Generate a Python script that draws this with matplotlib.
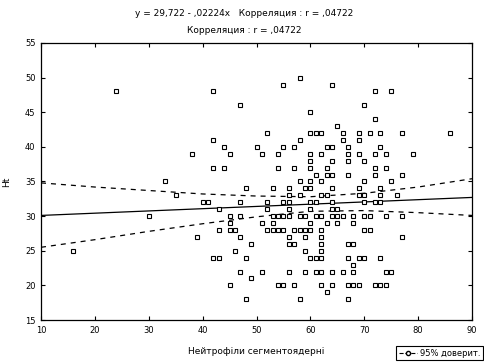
import numpy as np
import matplotlib
matplotlib.use('Agg')
import matplotlib.pyplot as plt
from matplotlib.lines import Line2D

# Scatter data (Нейтрофіли сегментоядерні vs Ht)
neut = [24,
        58, 55, 42, 47, 60, 52, 60, 61, 62, 42, 58, 44, 50, 55, 57, 63,
        38, 45, 51, 54, 60, 62, 60, 42, 44, 54, 57, 60, 63, 61, 63,
        64, 72, 75, 70, 72, 65, 66, 69, 71, 73, 77, 86, 66, 69, 64, 67, 73,
        67, 69, 72, 74, 79, 64, 67, 70, 72, 74, 64, 67, 72, 77,
        33, 35, 30, 16,
        58, 60, 62, 70, 75,
        48, 53, 56, 59, 60, 64, 69, 73,
        56, 58, 62, 63, 69, 70, 73, 76,
        40, 41, 47, 52, 55, 56, 60, 61, 64, 70, 72, 73,
        43, 52, 56, 60, 64, 65,
        45, 47, 53, 54, 55, 56, 58, 59, 61, 62, 64, 65, 66, 68, 70, 71, 74, 77,
        45, 51, 53, 60, 63, 65, 68,
        43, 45, 46, 52, 53, 54, 55, 57, 58, 59, 60, 62, 70, 71,
        39, 47, 56, 59, 62, 77,
        49, 56, 57, 62, 67, 68,
        46, 59, 62,
        42, 43, 48, 60, 61, 62, 67, 69, 70, 73,
        68,
        47, 51, 56, 59, 61, 62, 64, 66, 68, 74, 75,
        49,
        45, 54, 55, 57, 62, 64, 67, 68, 69, 72, 73, 74,
        63,
        48, 58, 67]
ht = [48,
      50, 49, 48, 46, 45, 42, 42, 42, 42, 41, 41, 40, 40, 40, 40, 40,
      39, 39, 39, 39, 39, 39, 38, 37, 37, 37, 37, 37, 37, 36, 36,
      49, 48, 48, 46, 44, 43, 42, 42, 42, 42, 42, 42, 41, 41, 40, 40, 40,
      39, 39, 39, 39, 39, 38, 38, 38, 37, 37, 36, 36, 36, 36,
      35, 33, 30, 25,
      35, 35, 35, 35, 35,
      34, 34, 34, 34, 34, 34, 34, 34,
      33, 33, 33, 33, 33, 33, 33, 33,
      32, 32, 32, 32, 32, 32, 32, 32, 32, 32, 32, 32,
      31, 31, 31, 31, 31, 31,
      30, 30, 30, 30, 30, 30, 30, 30, 30, 30, 30, 30, 30, 30, 30, 30, 30, 30,
      29, 29, 29, 29, 29, 29, 29,
      28, 28, 28, 28, 28, 28, 28, 28, 28, 28, 28, 28, 28, 28,
      27, 27, 27, 27, 27, 27,
      26, 26, 26, 26, 26, 26,
      25, 25, 25,
      24, 24, 24, 24, 24, 24, 24, 24, 24, 24,
      23,
      22, 22, 22, 22, 22, 22, 22, 22, 22, 22, 22,
      21,
      20, 20, 20, 20, 20, 20, 20, 20, 20, 20, 20, 20,
      19,
      18, 18, 18]

# regression line and 95% band
fit_x = [10, 90]
fit_y = [30.1, 32.7]
band_x = [10, 20, 30, 40, 50, 60, 70, 80, 90]
band_hi = [34.8, 34.2, 33.7, 33.2, 32.9, 32.8, 33.3, 34.2, 35.4]
band_lo = [25.5, 26.6, 27.8, 28.9, 29.9, 30.7, 30.8, 30.5, 30.1]

xticks = [10, 20, 30, 40, 50, 60, 70, 80, 90]
yticks = [15, 20, 25, 30, 35, 40, 45, 50, 55]

plt.rcParams['font.family'] = ['DejaVu Sans']
fig = plt.figure(figsize=(4.84, 3.63), dpi=100)
ax = fig.add_axes([41/484, 1-320/363, (472-41)/484, (320-43)/363])

ax.plot(neut, ht, 's', ms=3.0, mfc='white', mec='black', mew=0.8, zorder=3)
ax.plot(fit_x, fit_y, color='black', lw=0.9)
ax.plot(band_x, band_hi, color='black', lw=0.9, ls=(0, (4, 4)))
ax.plot(band_x, band_lo, color='black', lw=0.9, ls=(0, (4, 4)))

ax.set_xlim(10, 90)
ax.set_ylim(15, 55)
ax.set_xticks(xticks)
ax.set_yticks(yticks)
ax.tick_params(direction='in', top=True, right=True, labelsize=6, length=3,
               width=0.8, pad=4)
for s in ax.spines.values():
    s.set_linewidth(0.9)

ax.set_xlabel('Нейтрофіли сегментоядерні', fontsize=6.5, labelpad=9)
ax.set_ylabel('Ht', fontsize=6.5, labelpad=10)

fig.text(0.505, 0.962, 'y = 29,722 - ,02224x   Корреляция : r = ,04722',
         ha='center', va='center', fontsize=6.5)
fig.text(0.505, 0.917, 'Корреляция : r = ,04722',
         ha='center', va='center', fontsize=6.5)

h = Line2D([0], [0], color='black', ls='--', lw=0.8, marker='o', ms=3,
           mfc='white', mec='black')
leg = fig.legend(handles=[h], labels=['95% доверит.'], loc='lower right',
                 bbox_to_anchor=(1.0, 0.005), fontsize=6, fancybox=False,
                 edgecolor='black', framealpha=1, handlelength=2.2,
                 borderpad=0.3, handletextpad=0.4, borderaxespad=0.1)
leg.get_frame().set_linewidth(0.8)

fig.savefig('out.png', dpi=100)
